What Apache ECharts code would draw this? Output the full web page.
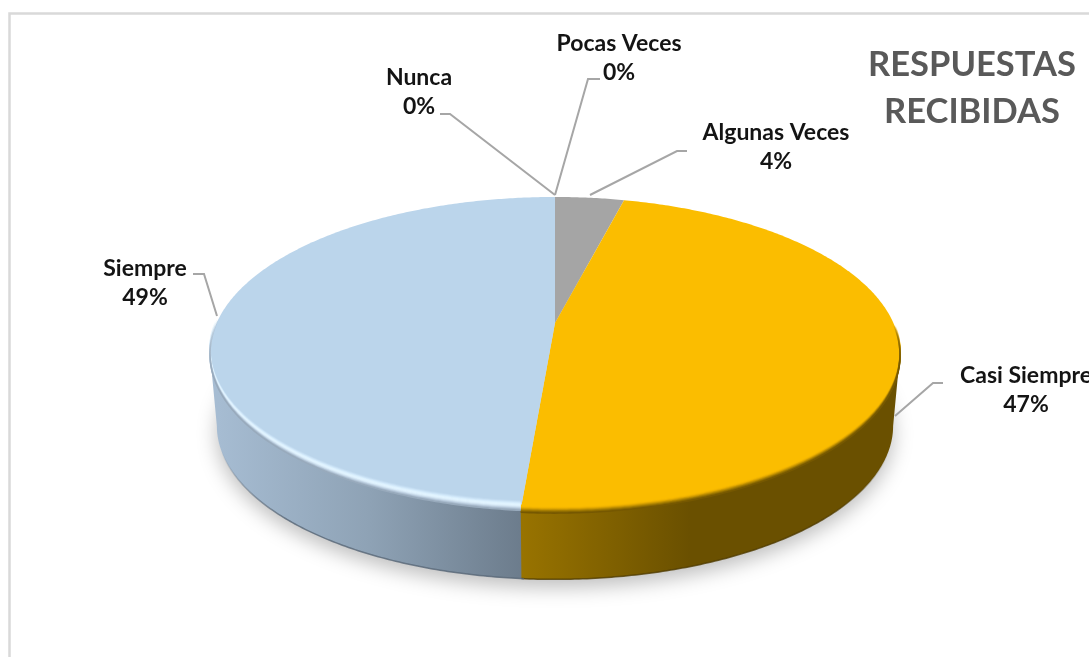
<!DOCTYPE html>
<html>
<head>
<meta charset="utf-8">
<style>
  html, body { margin: 0; padding: 0; background: #fff; overflow: hidden; }
  #main { width: 1089px; height: 657px; }
</style>
</head>
<body>
<div id="main"></div>
<script src="https://cdn.jsdelivr.net/npm/echarts@6/dist/echarts.min.js"></script>
<script>
const categories = ['Nunca', 'Pocas Veces', 'Algunas Veces', 'Casi Siempre', 'Siempre']
const respuestas = [0, 0, 3.9, 47.4, 48.7]

const topColors = ['#a5a5a5', '#7f7f7f', '#a5a5a5', '#fbbd00', '#bbd5eb']

// label box centre, elbow of the leader line, and where it ends
const labelPos = [[419, 92], [619, 58], [776, 147], [1026, 390], [145, 283]]
const lineStart = [[440, 114], [600, 79], [687, 151], [943, 383], [193, 274]]
const lineElbow = [[450, 114], [588, 79], [677, 151], [933, 383], [204, 274]]
const lineEnd = [[555, 195], [555, 195], [590, 195], [895, 416], [217, 316]]

// pie tilted in perspective: a circle mapped through a homography
const cx = 555, cy = 323, fx = 338.4, fy = 150.6, k = -0.195
const depthY = 73, depthScale = 0.98
// angle where the pie outline turns vertical
const sideAngle = Math.acos(k)

function onTop(phi, r) {
  const u = r * Math.sin(phi), v = -r * Math.cos(phi)
  const d = 1 + k * v
  return [cx + fx * u / d, cy + fy * v / d]
}
function onBottom(phi, r) {
  const p = onTop(phi, r)
  return [cx + (p[0] - cx) * depthScale, cy + (p[1] - cy) * depthScale + depthY]
}
function arc(fn, a0, a1, r) {
  const pts = []
  const n = Math.max(2, Math.ceil(Math.abs(a1 - a0) / 0.01))
  for (let i = 0; i <= n; i++) pts.push(fn(a0 + (a1 - a0) * i / n, r))
  return pts
}
function hgrad(x0, x1, stops) {
  return new echarts.graphic.LinearGradient(x0, 0, x1, 0, stops, true)
}
function vgrad(y0, y1, stops) {
  return new echarts.graphic.LinearGradient(0, y0, 0, y1, stops, true)
}

const total = respuestas.reduce((a, b) => a + b, 0)
const startAngle = []
let acc = 0
respuestas.forEach(v => {
  startAngle.push(acc / total * Math.PI * 2)
  acc += v
})

const wallFill = {
  3: () => hgrad(522, 690, [{offset: 0, color: '#987300'}, {offset: 1, color: '#6a5000'}]),
  4: () => hgrad(218, 522, [{offset: 0, color: '#a6bcd2'}, {offset: 0.5, color: '#8ea2b5'}, {offset: 1, color: '#6c7c8c'}])
}
// bevel colours from inside the top face down to the wall, one per pixel row
const bevelColors = {
  3: ['#fbbd00', '#f9bb00', '#f0b300', '#dba300', '#bf8f00', '#a37b00', '#8a6800', '#765800'],
  4: ['#c1daef', '#cbe3f6', '#d6ecfc', '#dff3ff', '#e2f4ff', '#dceefb', '#cfe1ef', '#bccee0', '#a8bacc', '#98aabc']
}
const bevelTop = {3: -4, 4: -8}
const fadeRange = {3: [325, 365], 4: [320, 375]}
const edgeColor = {3: '#4f3b00', 4: '#566575'}

function bevelRow(phi, dy) {
  const p = onTop(phi, 1)
  const v = Math.max(0, -Math.cos(phi))
  return [p[0], p[1] + dy * (0.5 + 0.5 * v)]
}

function renderSlice(params, api) {
  const i = params.dataIndex
  const val = api.value(0)
  const a0 = startAngle[i]
  const a1 = a0 + val / total * Math.PI * 2
  const children = []

  if (val > 0) {
    // side wall, only the part that faces the viewer
    // small overlap at the start so no seam shows between two walls
    const w0 = Math.max(a0 - 0.006, sideAngle)
    const w1 = Math.min(a1, Math.PI * 2 - sideAngle)
    if (w1 > w0) {
      children.push({
        type: 'polygon', z2: 2 - i / 10,
        shape: {points: arc(onTop, w0, w1, 1).concat(arc(onBottom, w1, w0, 1))},
        style: {fill: wallFill[i]()}
      })
      // thin dark line on the lower edge, fades out towards the sides
      children.push({
        type: 'polyline', z2: 3,
        shape: {points: arc(onBottom, w0, w1, 1)},
        style: {
          fill: null, lineWidth: 1.5,
          stroke: vgrad(450, 520, [{offset: 0, color: edgeColor[i] + '00'}, {offset: 1, color: edgeColor[i] + 'cc'}])
        }
      })
    }
    // top face
    children.push({
      type: 'polygon', z2: 4,
      shape: {points: [[cx, cy]].concat(arc(onTop, a0, a1, 1))},
      style: {fill: topColors[i]}
    })
    // bevel along the front edge, drawn as soft rows
    if (w1 > w0) {
      const range = fadeRange[i]
      bevelColors[i].forEach((color, row) => {
        const dy = bevelTop[i] + row
        const fromA = Math.max(a0, 1.35), toA = Math.min(a1, Math.PI * 1.58)
        const pts = []
        const n = Math.ceil((toA - fromA) / 0.01)
        for (let s = 0; s <= n; s++) pts.push(bevelRow(fromA + (toA - fromA) * s / n, dy))
        children.push({
          type: 'polyline', z2: 5 + row / 100,
          shape: {points: pts},
          style: {
            fill: null, lineWidth: 1.6,
            stroke: vgrad(range[0], range[1], [{offset: 0, color: color + '00'}, {offset: 1, color: color}])
          }
        })
      })
    }
  }

  // leader line and label
  children.push({
    type: 'polyline', z2: 6,
    shape: {points: [lineStart[i], lineElbow[i], lineEnd[i]]},
    style: {fill: null, stroke: '#a6a6a6', lineWidth: 2}
  })
  children.push({
    type: 'text', z2: 7,
    x: labelPos[i][0], y: labelPos[i][1],
    style: {
      text: categories[i] + '\n' + Math.round(val / total * 100) + '%',
      fontFamily: 'Lato', fontWeight: 'bold', fontSize: 23, lineHeight: 29,
      fill: '#141414', align: 'center', verticalAlign: 'middle'
    }
  })
  return {type: 'group', children: children}
}

const chart = echarts.init(document.getElementById('main'))
chart.setOption({
  animation: false,
  backgroundColor: '#fff',
  title: {
    text: 'RESPUESTAS\nRECIBIDAS',
    left: 967, top: 36,
    textAlign: 'center',
    textStyle: {
      fontFamily: 'Lato', fontWeight: 'bold', fontSize: 34.5, lineHeight: 47, color: '#595959'
    }
  },
  graphic: [
    // chart frame, runs off the right and bottom of the picture
    {
      type: 'rect', z: -1,
      shape: {x: 9.5, y: 13.5, width: 1300, height: 900},
      style: {fill: '#fff', stroke: '#d9d9d9', lineWidth: 2.5}
    },
    // soft shadow under the pie
    {
      type: 'polygon', z: 0,
      shape: {points: arc(onBottom, 0, Math.PI * 2, 1)},
      style: {fill: '#dcdcdc', shadowBlur: 20, shadowColor: 'rgba(0,0,0,0.26)', shadowOffsetY: 8}
    }
  ],
  series: [
    {
      type: 'custom',
      coordinateSystem: 'none',
      data: respuestas.map(v => [v]),
      renderItem: renderSlice,
      z: 2
    }
  ]
})
</script>
</body>
</html>
